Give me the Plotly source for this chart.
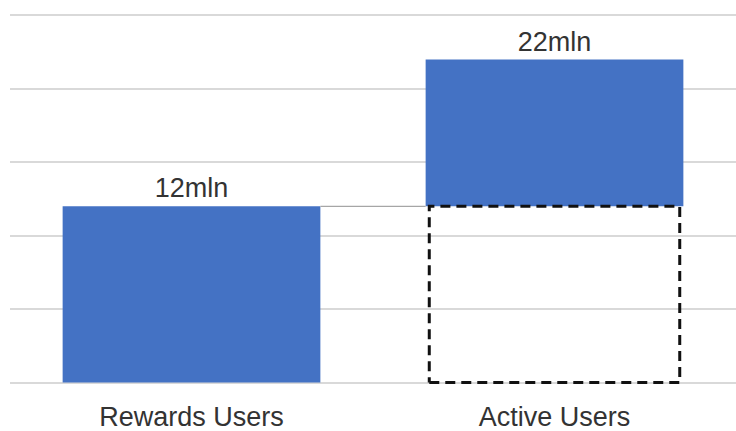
import plotly.graph_objects as go

# Category labels and values (millions of users)
categories = ["Rewards Users", "Active Users"]
rewards_users = 12
active_users = 22
value_labels = ["12mln", "22mln"]

BAR_COLOR = "#4472C4"
TEXT_COLOR = "#333333"
GRID_COLOR = "#D9D9D9"
BAR_WIDTH = 0.71
FONT = "Liberation Sans, Arial, sans-serif"

xpos = list(range(len(categories)))

fig = go.Figure()

# Rewards users bar (from zero)
fig.add_trace(go.Bar(
    x=[xpos[0]], y=[rewards_users], width=BAR_WIDTH,
    marker=dict(color=BAR_COLOR, line=dict(width=0)),
    text=[value_labels[0]], textposition="outside",
    textfont=dict(size=27, color=TEXT_COLOR, family=FONT),
    cliponaxis=False, hoverinfo="skip",
))

# Active users: floating bar for the increment above the rewards users
fig.add_trace(go.Bar(
    x=[xpos[1]], y=[active_users - rewards_users], base=[rewards_users],
    width=BAR_WIDTH,
    marker=dict(color=BAR_COLOR, line=dict(width=0)),
    text=[value_labels[1]], textposition="outside",
    textfont=dict(size=27, color=TEXT_COLOR, family=FONT),
    cliponaxis=False, hoverinfo="skip",
))

# Connector from the top of the first bar to the base of the floating bar
fig.add_trace(go.Scatter(
    x=[xpos[0] + BAR_WIDTH / 2, xpos[1] - BAR_WIDTH / 2],
    y=[rewards_users, rewards_users],
    mode="lines", line=dict(color="#A6A6A6", width=1.2),
    hoverinfo="skip",
))

# Dashed outline for the rewards-user share of active users
inset = 0.01
x0 = xpos[1] - BAR_WIDTH / 2 + inset
x1 = xpos[1] + BAR_WIDTH / 2 - inset
fig.add_trace(go.Scatter(
    x=[x0, x1, x1, x0, x0],
    y=[0, 0, rewards_users, rewards_users, 0],
    mode="lines", line=dict(color="#111111", width=3, dash="10px,6px"),
    hoverinfo="skip", cliponaxis=False,
))

fig.update_layout(
    width=736, height=431,
    margin=dict(l=10, r=0, t=13.5, b=46.5),
    paper_bgcolor="white", plot_bgcolor="white",
    showlegend=False,
    barmode="overlay",
    font=dict(family=FONT, color=TEXT_COLOR),
)
fig.update_xaxes(
    range=[-0.5, 1.5], tickvals=xpos, ticktext=categories,
    tickfont=dict(size=27, color=TEXT_COLOR, family=FONT),
    showgrid=False, zeroline=False, showline=False, ticks="",
    ticklabelstandoff=14,
)
fig.update_yaxes(
    range=[-0.1, 25.1], tickvals=[0, 5, 10, 15, 20, 25],
    showgrid=True, gridcolor=GRID_COLOR, gridwidth=1.5,
    zeroline=False, showticklabels=False, showline=False, ticks="",
)

fig.write_html("out.html")
